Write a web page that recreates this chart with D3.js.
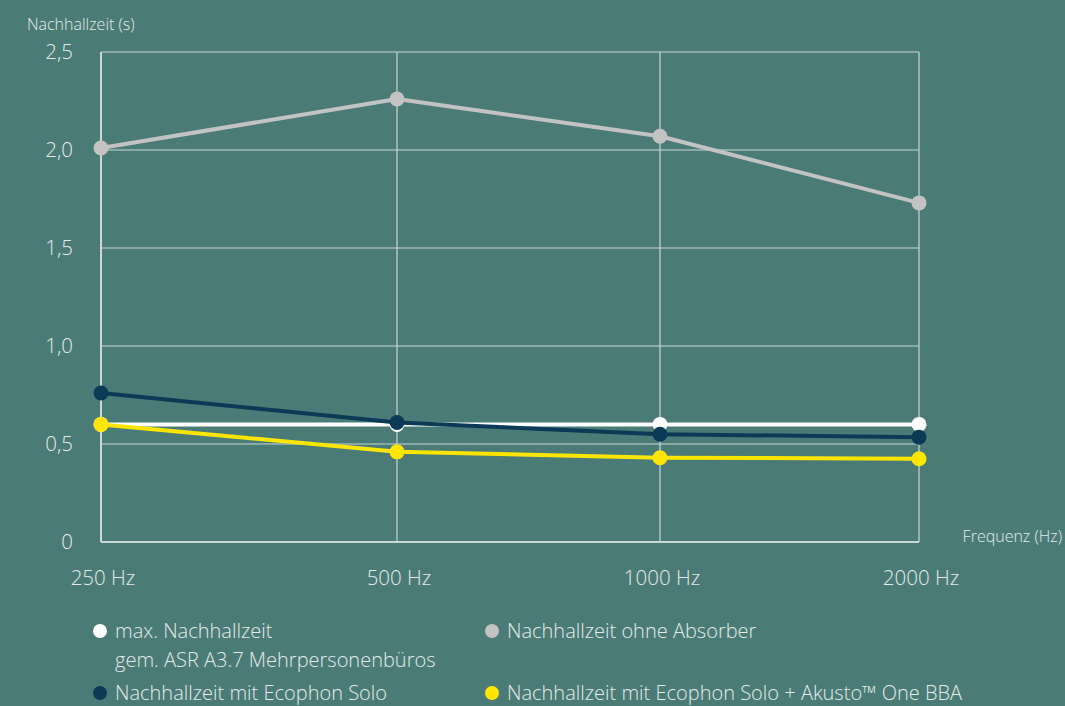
<!DOCTYPE html>
<html>
<head>
<meta charset="utf-8">
<script src="https://cdn.jsdelivr.net/npm/d3@7"></script>
<style>
  html, body { margin: 0; padding: 0; background: #4b7b76; }
  svg text { font-family: "Open Sans", Lato, sans-serif; font-weight: 300; fill: #e3ebe9; }
</style>
</head>
<body>
<div id="chart"></div>
<script>
// Daten
const frequencies = ["250 Hz", "500 Hz", "1000 Hz", "2000 Hz"];
const yTicks = [0, 0.5, 1.0, 1.5, 2.0, 2.5];

const maxValues = [0.60, 0.60, 0.60, 0.60];
const ohneAbsorber = [2.01, 2.26, 2.07, 1.73];
const ecophonSolo = [0.76, 0.61, 0.55, 0.535];
const soloAkusto = [0.60, 0.46, 0.43, 0.425];

const width = 1065;
const height = 706;
const plot = { left: 101, right: 919, top: 52, bottom: 542 };

const svg = d3.select("#chart")
    .append("svg")
    .attr("width", width)
    .attr("height", height);

// Skalen (x-Abstände im Original ungleichmäßig)
const x = d3.scaleLinear()
    .domain([0, 1, 2, 3])
    .range([plot.left, 397, 660, plot.right]);

const y = d3.scaleLinear()
    .domain([0, 2.5])
    .range([plot.bottom, plot.top]);

const gridColor = "#c9d8d5";

// Horizontale Gitterlinien
svg.append("g")
    .selectAll("line")
    .data(yTicks)
    .join("line")
    .attr("x1", plot.left)
    .attr("x2", plot.right)
    .attr("y1", d => y(d))
    .attr("y2", d => y(d))
    .attr("stroke", gridColor)
    .attr("stroke-width", d => d === 0 ? 2 : 1.2);

// Vertikale Gitterlinien
svg.append("g")
    .selectAll("line")
    .data(frequencies)
    .join("line")
    .attr("x1", (d, i) => x(i))
    .attr("x2", (d, i) => x(i))
    .attr("y1", plot.top)
    .attr("y2", plot.bottom)
    .attr("stroke", gridColor)
    .attr("stroke-width", (d, i) => i === 0 ? 2 : 1.2);

// Achsenbeschriftung y
svg.append("g")
    .selectAll("text")
    .data(yTicks)
    .join("text")
    .attr("x", 73)
    .attr("y", d => y(d))
    .attr("dy", "0.35em")
    .attr("text-anchor", "end")
    .attr("font-size", 20.5)
    .text(d => d === 0 ? "0" : d3.format(".1f")(d).replace(".", ","));

// Achsenbeschriftung x
svg.append("g")
    .selectAll("text")
    .data(frequencies)
    .join("text")
    .attr("x", (d, i) => x(i) + 2)
    .attr("y", 585)
    .attr("text-anchor", "middle")
    .attr("font-size", 20.5)
    .text(d => d);

svg.append("text")
    .attr("x", 27)
    .attr("y", 30)
    .attr("font-size", 16)
    .text("Nachhallzeit (s)");

svg.append("text")
    .attr("x", 1062)
    .attr("y", 542)
    .attr("text-anchor", "end")
    .attr("font-size", 16)
    .text("Frequenz (Hz)");

// Datenreihen
const series = [
    { values: ohneAbsorber, color: "#c3c3c3" },
    { values: maxValues, color: "#ffffff" },
    { values: ecophonSolo, color: "#0b3a56" },
    { values: soloAkusto, color: "#ffe600" }
];

const line = d3.line()
    .x((d, i) => x(i))
    .y(d => y(d));

series.forEach(s => {
    svg.append("path")
        .attr("d", line(s.values))
        .attr("fill", "none")
        .attr("stroke", s.color)
        .attr("stroke-width", 4)
        .attr("stroke-linejoin", "round");

    svg.append("g")
        .selectAll("circle")
        .data(s.values)
        .join("circle")
        .attr("cx", (d, i) => x(i))
        .attr("cy", d => y(d))
        .attr("r", 7.5)
        .attr("fill", s.color);
});

// Legende
const legend = [
    { lines: ["max. Nachhallzeit", "gem. ASR A3.7 Mehrpersonenbüros"], color: "#ffffff", lx: 100, ly: 631 },
    { lines: ["Nachhallzeit ohne Absorber"], color: "#c3c3c3", lx: 492, ly: 631 },
    { lines: ["Nachhallzeit mit Ecophon Solo"], color: "#0b3a56", lx: 100, ly: 693 },
    { lines: ["Nachhallzeit mit Ecophon Solo + Akusto\u2122 One BBA"], color: "#ffe600", lx: 492, ly: 693 }
];

legend.forEach(item => {
    svg.append("circle")
        .attr("cx", item.lx)
        .attr("cy", item.ly)
        .attr("r", 7)
        .attr("fill", item.color);
    item.lines.forEach((t, j) => {
        svg.append("text")
            .attr("x", item.lx + 15)
            .attr("y", item.ly + j * 29)
            .attr("dy", "0.35em")
            .attr("font-size", 20)
            .text(t);
    });
});
</script>
</body>
</html>
